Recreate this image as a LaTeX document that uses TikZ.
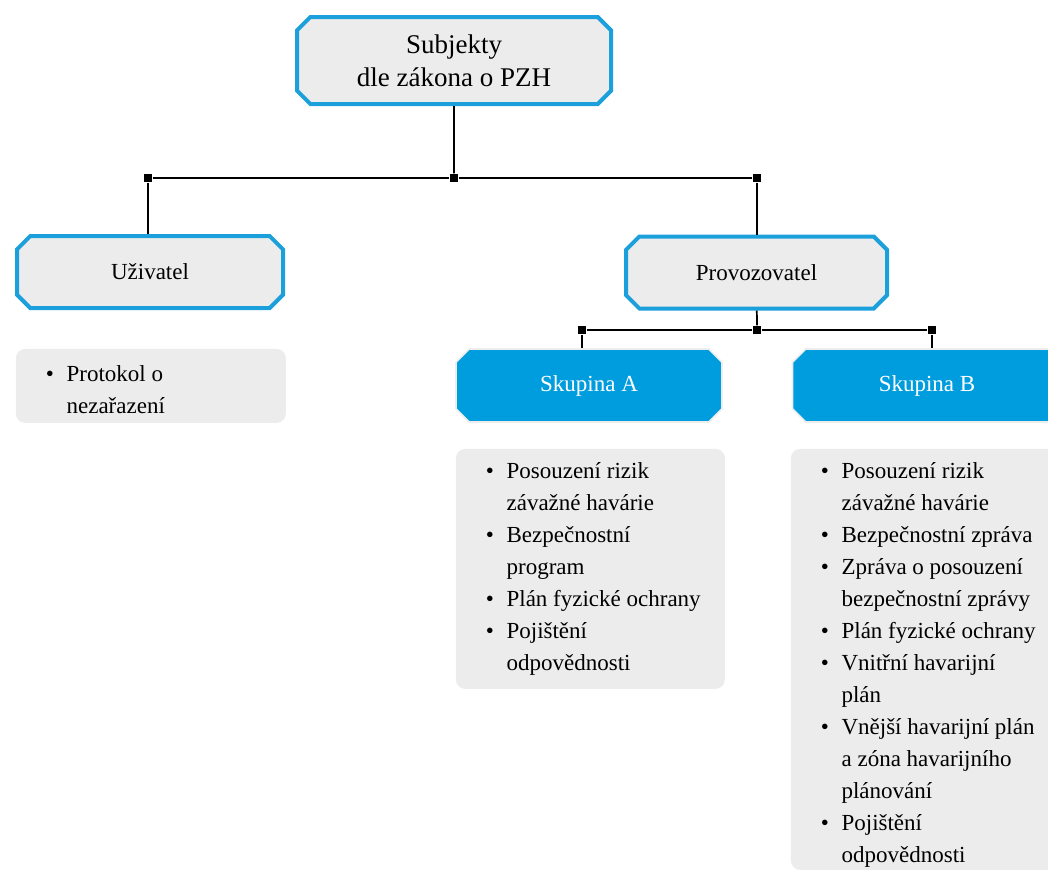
\documentclass[tikz,border=0pt]{standalone}
\usepackage{fontspec}
\setmainfont{LiberationSerif}[Extension=.ttf, UprightFont=*-Regular, BoldFont=*-Bold,
    ItalicFont=*-Italic, BoldItalicFont=*-BoldItalic]
\usetikzlibrary{shapes.misc, positioning}

\definecolor{pzhblue}{HTML}{1CA0DC}
\definecolor{pzhfill}{HTML}{009DDE}
\definecolor{pzhgrey}{HTML}{ECECEC}

\newcommand{\bul}{\textbullet}
\newenvironment{bullist}{\begin{tabular}{@{}l@{\hspace{9.5pt}}l@{}}}{\end{tabular}}
\newcommand{\listtext}[3]{\parbox[t][#1][t]{#2}{#3}}

\begin{document}
\begin{tikzpicture}[x=0.75pt, y=-0.75pt, line width=1.3pt,
    font=\fontsize{17.25pt}{24pt}\selectfont,
    headbox/.style={chamfered rectangle, chamfered rectangle xsep=5pt, chamfered rectangle ysep=5pt,
        draw=pzhblue, line width=3pt, fill=pzhgrey, inner sep=0pt, align=center},
    groupbox/.style={chamfered rectangle, chamfered rectangle xsep=5pt, chamfered rectangle ysep=5pt,
        draw=black!7, line width=1.2pt, fill=pzhfill, text=white, inner sep=0pt,
        minimum width=199.5pt, minimum height=54.75pt},
    listbox/.style={rounded corners=7pt, fill=pzhgrey, anchor=north west,
        inner xsep=22.5pt, inner ysep=#1},
    jointsq/.style={rectangle, fill=black, inner sep=0pt, minimum size=5.5pt}]

    \clip (0,0) rectangle (1048,871);

    % Nodes
    \node[headbox, minimum width=235.5pt, minimum height=65.25pt,
        font=\fontsize{20.25pt}{24.75pt}\selectfont] (subj) at (454,60.5)
        {Subjekty\\dle zákona o PZH};
    \node[headbox, minimum width=199.5pt, minimum height=54pt] (uziv) at (150,272) {Uživatel};
    \node[headbox, minimum width=195.75pt, minimum height=54pt] (provoz) at (756.5,272.5) {Provozovatel};
    \node[groupbox] (skupA) at (589,385.5) {Skupina A};
    \node[groupbox, minimum width=201.75pt] (skupB) at (927,385.5) {Skupina B};

    % Lists
    \node[listbox=7.5pt] (listU) at (15,348)
        {\listtext{40.5pt}{157.5pt}{\begin{bullist}
            \bul & Protokol o\\
                 & nezařazení
        \end{bullist}}};
    \node[listbox=5.25pt] (listA) at (455,448)
        {\listtext{169.5pt}{156.75pt}{\begin{bullist}
            \bul & Posouzení rizik\\
                 & závažné havárie\\
            \bul & Bezpečnostní\\
                 & program\\
            \bul & Plán fyzické ochrany\\
            \bul & Pojištění\\
                 & odpovědnosti
        \end{bullist}}};
    \node[listbox=5.25pt] (listB) at (790,448)
        {\listtext{305.25pt}{159pt}{\begin{bullist}
            \bul & Posouzení rizik\\
                 & závažné havárie\\
            \bul & Bezpečnostní zpráva\\
            \bul & Zpráva o posouzení\\
                 & bezpečnostní zprávy\\
            \bul & Plán fyzické ochrany\\
            \bul & Vnitřní havarijní\\
                 & plán\\
            \bul & Vnější havarijní plán\\
                 & a zóna havarijního\\
                 & plánování\\
            \bul & Pojištění\\
                 & odpovědnosti
        \end{bullist}}};

    % Junctions
    \node[jointsq] (j0) at (454,178) {};
    \node[jointsq] (j1) at (148,178) {};
    \node[jointsq] (j2) at (757,178) {};
    \node[jointsq] (k0) at (757,330) {};
    \node[jointsq] (k1) at (582,330) {};
    \node[jointsq] (k2) at (932,330) {};

    % Connectors
    \draw (subj) -- (j0);
    \draw (j1) -- (j0) -- (j2);
    \draw (j1) -- (j1 |- uziv.north);
    \draw (j2) -- (j2 |- provoz.north);
    \draw (provoz) -- (k0);
    \draw (k1) -- (k0) -- (k2);
    \draw (k1) -- (k1 |- skupA.north);
    \draw (k2) -- (k2 |- skupB.north);

\end{tikzpicture}
\end{document}
